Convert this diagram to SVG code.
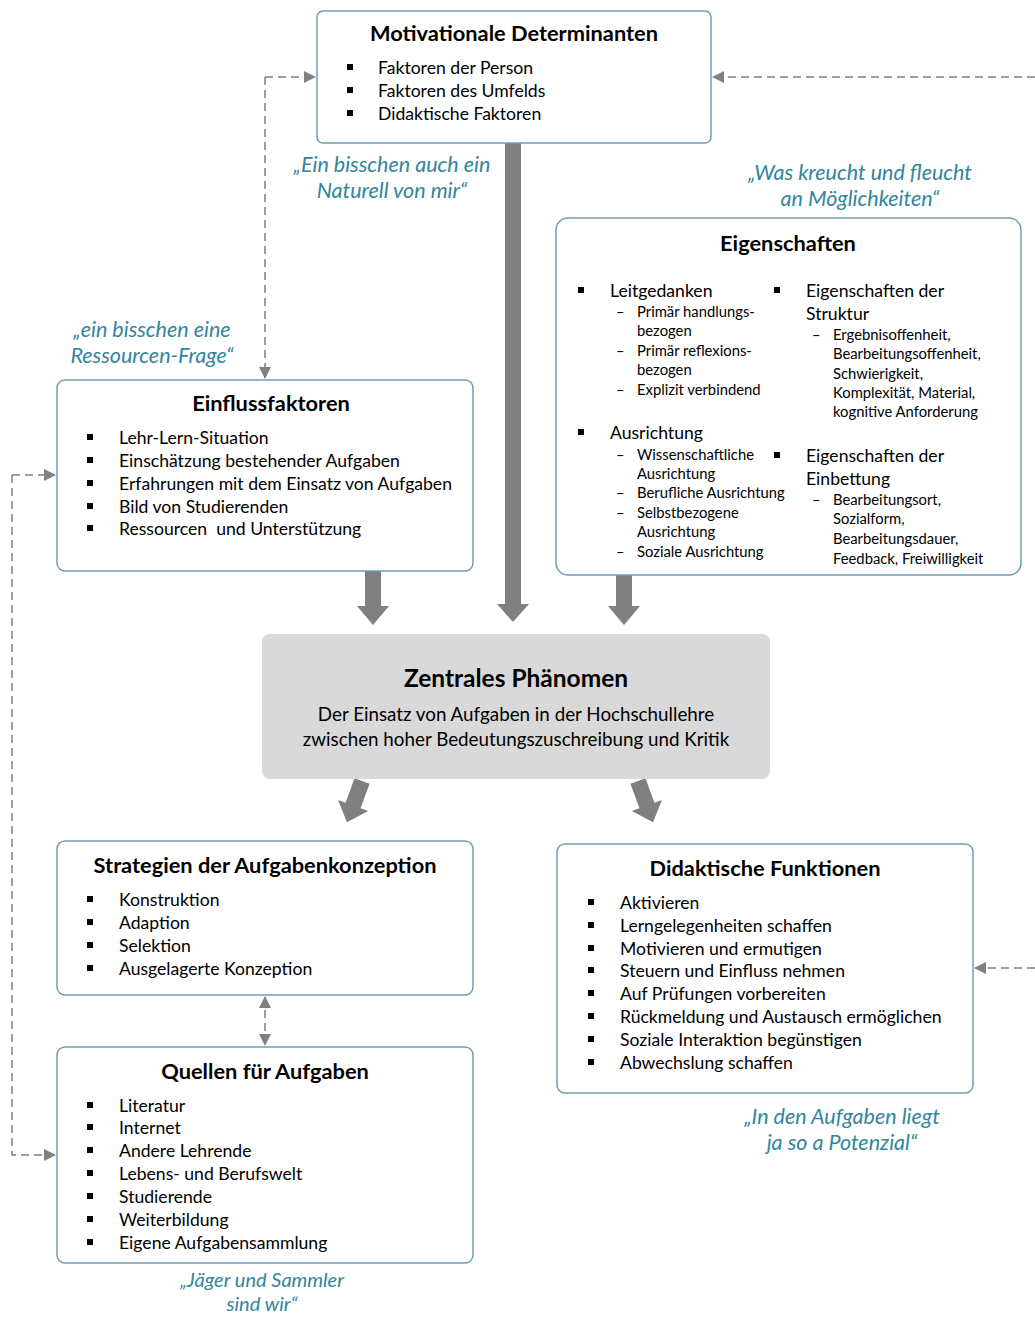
<svg xmlns="http://www.w3.org/2000/svg" width="1035" height="1317" viewBox="0 0 1035 1317">
<style>
text{font-family:Lato,"Open Sans","Liberation Sans",sans-serif;fill:#000}
.box{fill:#fff;stroke:#6f9fae;stroke-width:1.5}
.t{font-weight:bold;font-size:21.8px;text-anchor:middle}
.b{font-size:17.6px}
.e{font-size:17.6px}
.s{font-size:14.8px}
.q{font-style:italic;font-size:21.5px;fill:#31859c;text-anchor:middle}
.dash{fill:none;stroke:#808080;stroke-width:1.5;stroke-dasharray:8 5}
.big{fill:#808080}
.sq{fill:#000}
</style>
<defs>
<marker id="ah" markerWidth="12" markerHeight="12" refX="11" refY="6" orient="auto" markerUnits="userSpaceOnUse">
<path d="M0,0 L12,6 L0,12 Z" fill="#808080"/>
</marker>
<marker id="ahs" markerWidth="12" markerHeight="12" refX="11" refY="6" orient="auto-start-reverse" markerUnits="userSpaceOnUse">
<path d="M0,0 L12,6 L0,12 Z" fill="#808080"/>
</marker>
<polygon id="fat" points="-8,0 8,0 8,26 16,26 0,44 -16,26 -8,26"/>
</defs>

<g id="connectors">
<polygon class="big" points="505,143 521,143 521,604 529,604 513,622 497,604 505,604"/>
<polygon class="big" points="365,571 381,571 381,606 389,606 373,625 357,606 365,606"/>
<polygon class="big" points="616,575 632,575 632,606 640,606 624,625 608,606 616,606"/>
<use href="#fat" class="big" transform="translate(362,781) rotate(20)"/>
<use href="#fat" class="big" transform="translate(638,781) rotate(-20)"/>
<path class="dash" d="M1035,77 H713" marker-end="url(#ah)"/>
<path class="dash" d="M265,77 H315" marker-end="url(#ah)"/>
<path class="dash" d="M265,77 V378" marker-end="url(#ah)"/>
<path class="dash" d="M12,475 H55" marker-end="url(#ah)"/>
<path class="dash" d="M12,475 V1155 H55" marker-end="url(#ah)"/>
<path class="dash" d="M265,997 V1045" marker-start="url(#ahs)" marker-end="url(#ahs)"/>
<path class="dash" d="M1035,968 H975" marker-end="url(#ah)"/>
</g>

<g id="motivationale">
<rect class="box" x="317" y="11" width="394" height="132" rx="6"/>
<text class="t" x="514" y="41">Motivationale Determinanten</text>
<rect class="sq" x="347" y="64" width="6" height="6"/><text class="b" x="378" y="74">Faktoren der Person</text>
<rect class="sq" x="347" y="87" width="6" height="6"/><text class="b" x="378" y="97">Faktoren des Umfelds</text>
<rect class="sq" x="347" y="110" width="6" height="6"/><text class="b" x="378" y="120">Didaktische Faktoren</text>
</g>

<g id="quote-naturell">
<text class="q" x="392" y="172">„Ein bisschen auch ein</text>
<text class="q" x="392" y="198">Naturell von mir“</text>
</g>
<g id="quote-kreucht">
<text class="q" x="860" y="180">„Was kreucht und fleucht</text>
<text class="q" x="860" y="206">an Möglichkeiten“</text>
</g>
<g id="quote-ressourcen">
<text class="q" x="152" y="337">„ein bisschen eine</text>
<text class="q" x="152" y="363">Ressourcen-Frage“</text>
</g>

<g id="eigenschaften">
<rect class="box" x="556" y="218" width="465" height="357" rx="12"/>
<text class="t" x="788" y="251">Eigenschaften</text>
<rect class="sq" x="578" y="287" width="6" height="6"/><text class="e" x="610" y="297">Leitgedanken</text>
<text class="s" x="616" y="317">–</text><text class="s" x="637" y="317">Primär handlungs-</text>
<text class="s" x="637" y="336">bezogen</text>
<text class="s" x="616" y="356">–</text><text class="s" x="637" y="356">Primär reflexions-</text>
<text class="s" x="637" y="375">bezogen</text>
<text class="s" x="616" y="395">–</text><text class="s" x="637" y="395">Explizit verbindend</text>
<rect class="sq" x="578" y="429" width="6" height="6"/><text class="e" x="610" y="439">Ausrichtung</text>
<text class="s" x="616" y="460">–</text><text class="s" x="637" y="460">Wissenschaftliche</text>
<text class="s" x="637" y="479">Ausrichtung</text>
<text class="s" x="616" y="498">–</text><text class="s" x="637" y="498">Berufliche Ausrichtung</text>
<text class="s" x="616" y="518">–</text><text class="s" x="637" y="518">Selbstbezogene</text>
<text class="s" x="637" y="537">Ausrichtung</text>
<text class="s" x="616" y="557">–</text><text class="s" x="637" y="557">Soziale Ausrichtung</text>
<rect class="sq" x="774" y="287" width="6" height="6"/><text class="e" x="806" y="297">Eigenschaften der</text>
<text class="e" x="806" y="320">Struktur</text>
<text class="s" x="812" y="340">–</text><text class="s" x="833" y="340">Ergebnisoffenheit,</text>
<text class="s" x="833" y="359">Bearbeitungsoffenheit,</text>
<text class="s" x="833" y="379">Schwierigkeit,</text>
<text class="s" x="833" y="398">Komplexität, Material,</text>
<text class="s" x="833" y="417">kognitive Anforderung</text>
<rect class="sq" x="774" y="452" width="6" height="6"/><text class="e" x="806" y="462">Eigenschaften der</text>
<text class="e" x="806" y="485">Einbettung</text>
<text class="s" x="812" y="505">–</text><text class="s" x="833" y="505">Bearbeitungsort,</text>
<text class="s" x="833" y="524">Sozialform,</text>
<text class="s" x="833" y="544">Bearbeitungsdauer,</text>
<text class="s" x="833" y="564">Feedback, Freiwilligkeit</text>
</g>

<g id="einflussfaktoren">
<rect class="box" x="57" y="380" width="416" height="191" rx="8"/>
<text class="t" x="271" y="411">Einflussfaktoren</text>
<rect class="sq" x="87" y="434" width="6" height="6"/><text class="b" x="119" y="444">Lehr-Lern-Situation</text>
<rect class="sq" x="87" y="457" width="6" height="6"/><text class="b" x="119" y="467">Einschätzung bestehender Aufgaben</text>
<rect class="sq" x="87" y="480" width="6" height="6"/><text class="b" x="119" y="490">Erfahrungen mit dem Einsatz von Aufgaben</text>
<rect class="sq" x="87" y="503" width="6" height="6"/><text class="b" x="119" y="513">Bild von Studierenden</text>
<rect class="sq" x="87" y="525" width="6" height="6"/><text class="b" x="119" y="535" xml:space="preserve">Ressourcen  und Unterstützung</text>
</g>

<g id="zentrales">
<rect x="262" y="634" width="508" height="145" rx="8" fill="#d9d9d9"/>
<text class="t" x="516" y="687" style="font-size:24.5px">Zentrales Phänomen</text>
<text x="516" y="721" style="font-size:18.8px;text-anchor:middle">Der Einsatz von Aufgaben in der Hochschullehre</text>
<text x="516" y="746" style="font-size:18.8px;text-anchor:middle">zwischen hoher Bedeutungszuschreibung und Kritik</text>
</g>

<g id="strategien">
<rect class="box" x="57" y="841" width="416" height="154" rx="8"/>
<text class="t" x="265" y="873">Strategien der Aufgabenkonzeption</text>
<rect class="sq" x="87" y="896" width="6" height="6"/><text class="b" x="119" y="906">Konstruktion</text>
<rect class="sq" x="87" y="919" width="6" height="6"/><text class="b" x="119" y="929">Adaption</text>
<rect class="sq" x="87" y="942" width="6" height="6"/><text class="b" x="119" y="952">Selektion</text>
<rect class="sq" x="87" y="965" width="6" height="6"/><text class="b" x="119" y="975">Ausgelagerte Konzeption</text>
</g>

<g id="quellen">
<rect class="box" x="57" y="1047" width="416" height="216" rx="8"/>
<text class="t" x="265" y="1079">Quellen für Aufgaben</text>
<rect class="sq" x="87" y="1102" width="6" height="6"/><text class="b" x="119" y="1112">Literatur</text>
<rect class="sq" x="87" y="1124" width="6" height="6"/><text class="b" x="119" y="1134">Internet</text>
<rect class="sq" x="87" y="1147" width="6" height="6"/><text class="b" x="119" y="1157">Andere Lehrende</text>
<rect class="sq" x="87" y="1170" width="6" height="6"/><text class="b" x="119" y="1180">Lebens- und Berufswelt</text>
<rect class="sq" x="87" y="1193" width="6" height="6"/><text class="b" x="119" y="1203">Studierende</text>
<rect class="sq" x="87" y="1216" width="6" height="6"/><text class="b" x="119" y="1226">Weiterbildung</text>
<rect class="sq" x="87" y="1239" width="6" height="6"/><text class="b" x="119" y="1249">Eigene Aufgabensammlung</text>
</g>

<g id="quote-jaeger">
<text class="q" x="262" y="1287" style="font-size:20px">„Jäger und Sammler</text>
<text class="q" x="262" y="1311" style="font-size:20px">sind wir“</text>
</g>

<g id="didaktische">
<rect class="box" x="557" y="844" width="416" height="249" rx="8"/>
<text class="t" x="765" y="876">Didaktische Funktionen</text>
<rect class="sq" x="588" y="899" width="6" height="6"/><text class="b" x="620" y="909">Aktivieren</text>
<rect class="sq" x="588" y="922" width="6" height="6"/><text class="b" x="620" y="932">Lerngelegenheiten schaffen</text>
<rect class="sq" x="588" y="945" width="6" height="6"/><text class="b" x="620" y="955">Motivieren und ermutigen</text>
<rect class="sq" x="588" y="967" width="6" height="6"/><text class="b" x="620" y="977">Steuern und Einfluss nehmen</text>
<rect class="sq" x="588" y="990" width="6" height="6"/><text class="b" x="620" y="1000">Auf Prüfungen vorbereiten</text>
<rect class="sq" x="588" y="1013" width="6" height="6"/><text class="b" x="620" y="1023">Rückmeldung und Austausch ermöglichen</text>
<rect class="sq" x="588" y="1036" width="6" height="6"/><text class="b" x="620" y="1046">Soziale Interaktion begünstigen</text>
<rect class="sq" x="588" y="1059" width="6" height="6"/><text class="b" x="620" y="1069">Abwechslung schaffen</text>
</g>

<g id="quote-potenzial">
<text class="q" x="842" y="1124">„In den Aufgaben liegt</text>
<text class="q" x="842" y="1150">ja so a Potenzial“</text>
</g>
</svg>
